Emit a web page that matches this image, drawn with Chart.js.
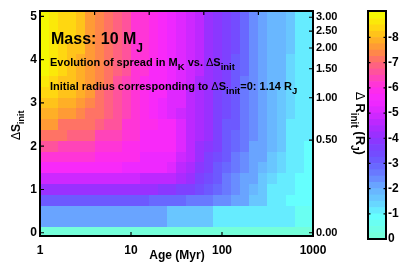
<!DOCTYPE html>
<html>
<head>
<meta charset="utf-8">
<script src="https://cdn.jsdelivr.net/npm/chart.js@4.4.0/dist/chart.umd.min.js"></script>
<style>
  html, body { margin:0; padding:0; background:#fff; }
  #wrap { position:relative; width:407px; height:265px; overflow:hidden; }
  #main { position:absolute; left:0; top:0; }
  #cbar { position:absolute; left:360px; top:0; }
</style>
</head>
<body>
<div id="wrap">
  <canvas id="main" width="407" height="265"></canvas>
  <canvas id="cbar" width="47" height="265"></canvas>
</div>
<script>
/* ============================================================
   Mass 10 MJ — spread in M_K vs. age and ΔS_init (heatmap)
============================================================ */

// age grid (Myr), cell edges, 0.1 dex each
var ageEdges = [1, 1.259, 1.585, 1.995, 2.512, 3.162, 3.981, 5.012, 6.31, 7.943,
                10, 12.59, 15.85, 19.95, 25.12, 31.62, 39.81, 50.12, 63.1, 79.43,
                100, 125.9, 158.5, 199.5, 251.2, 316.2, 398.1, 501.2, 631, 794.3, 1000];

// ΔS_init rows (cell centres)
var deltaS = [0, 0.25, 0.5, 0.75, 1, 1.25, 1.5, 1.75, 2, 2.25, 2.5,
              2.75, 3, 3.25, 3.5, 3.75, 4, 4.25, 4.5, 4.75, 5];

// spread in M_K (mag), one row per ΔS_init, one value per age cell
var spreadRows = [
  /* 0.00 */ [0,0,0,0,0,0,0,0,0,0,0,0,0,0,0,0,0,0,0,0,0,0,0,0,0,0,0,0,0,0],
  /* 0.25 */ [2.0,2.0,2.0,2.0,2.0,2.0,2.0,2.0,2.0,2.0,2.0,2.0,2.0,2.0,1.5,1.5,1.5,1.5,1.5,1.0,1.0,1.0,1.0,1.0,1.0,1.0,1.0,1.0,0.6,0.6],
  /* 0.50 */ [2.0,2.0,2.0,2.0,2.0,2.0,2.0,2.0,2.0,2.0,2.0,2.0,2.0,2.0,1.5,1.5,1.5,1.5,1.5,1.0,1.0,1.0,1.0,1.0,1.0,1.0,1.0,1.0,0.6,0.6],
  /* 0.75 */ [3.0,3.0,3.0,3.0,3.0,3.0,3.0,3.0,3.0,3.0,3.0,3.0,2.8,2.8,2.8,2.8,2.6,2.6,2.6,2.3,2.3,2.0,2.0,1.6,1.6,1.1,1.1,0.8,0.8,0.8],
  /* 1.00 */ [4.0,4.0,4.0,4.0,4.0,4.0,4.0,4.0,4.0,4.0,4.0,4.0,4.0,3.8,3.8,3.6,3.5,3.3,3.1,2.8,2.5,2.3,2.0,1.8,1.5,1.2,1.0,1.0,0.9,0.8],
  /* 1.25 */ [4.9,4.9,4.9,4.9,4.9,4.9,4.9,4.9,4.9,4.9,4.9,4.7,4.7,4.7,4.7,4.4,4.0,3.7,3.4,3.0,2.7,2.4,2.1,2.0,1.7,1.4,1.1,1.0,0.9,0.8],
  /* 1.50 */ [5.6,5.6,5.6,5.6,5.6,5.6,5.6,5.6,5.6,5.3,5.3,5.3,5.3,5.3,5.0,4.7,4.3,3.9,3.6,3.2,2.9,2.6,2.3,2.0,1.9,1.6,1.3,1.0,1.0,0.9],
  /* 1.75 */ [6.0,6.0,6.0,6.0,6.0,6.0,5.8,5.8,5.8,5.8,5.8,5.4,5.4,5.4,5.3,4.9,4.5,4.1,3.7,3.4,3.0,2.7,2.4,2.1,2.0,1.7,1.4,1.1,1.0,0.9],
  /* 2.00 */ [6.6,6.6,6.4,6.4,6.4,6.4,6.1,6.1,6.1,5.8,5.8,5.7,5.6,5.5,5.5,5.0,4.6,4.2,3.9,3.5,3.1,2.8,2.5,2.2,2.0,1.9,1.5,1.1,1.0,0.9],
  /* 2.25 */ [7.0,7.0,7.0,6.8,6.8,6.8,6.4,6.4,6.4,6.1,6.1,5.7,5.7,5.7,5.6,5.0,4.7,4.3,4.0,3.6,3.2,2.9,2.6,2.3,2.0,1.95,1.6,1.2,1.0,1.0],
  /* 2.50 */ [7.6,7.6,7.2,7.2,7.0,7.0,6.8,6.6,6.6,6.1,6.1,5.9,5.9,5.5,5.5,5.0,4.7,4.3,4.0,3.6,3.2,3.0,2.7,2.4,2.1,1.95,1.6,1.2,1.0,1.0],
  /* 2.75 */ [7.9,7.8,7.6,7.5,7.3,7.2,7.0,6.8,6.5,6.3,6.0,5.8,5.6,5.4,5.2,4.9,4.6,4.3,4.0,3.6,3.3,3.0,2.6,2.3,2.0,1.8,1.6,1.3,1.0,1.0],
  /* 3.00 */ [8.2,8.1,7.9,7.8,7.6,7.4,7.1,6.9,6.6,6.3,6.1,5.9,5.7,5.4,5.2,5.0,4.7,4.3,4.0,3.7,3.4,3.0,2.7,2.3,2.0,1.8,1.7,1.3,1.0,1.0],
  /* 3.25 */ [8.4,8.3,8.1,8.0,7.8,7.5,7.2,6.9,6.7,6.4,6.1,5.9,5.7,5.5,5.2,5.0,4.7,4.4,4.0,3.7,3.4,3.1,2.7,2.3,2.0,1.9,1.7,1.3,1.0,1.0],
  /* 3.50 */ [8.7,8.4,8.2,8.1,7.9,7.6,7.3,7.0,6.7,6.4,6.1,5.9,5.7,5.5,5.3,5.0,4.8,4.4,4.1,3.8,3.5,3.1,2.7,2.4,2.0,1.9,1.8,1.4,1.0,1.0],
  /* 3.75 */ [8.8,8.5,8.3,8.2,7.9,7.6,7.3,7.0,6.8,6.5,6.2,6.0,5.7,5.5,5.3,5.1,4.8,4.5,4.1,3.8,3.5,3.2,2.8,2.4,2.1,1.9,1.8,1.4,1.0,1.0],
  /* 4.00 */ [8.8,8.6,8.4,8.2,7.9,7.7,7.4,7.1,6.8,6.5,6.2,6.0,5.8,5.6,5.3,5.1,4.8,4.5,4.2,3.9,3.5,3.2,2.8,2.4,2.1,1.9,1.8,1.4,1.0,1.0],
  /* 4.25 */ [8.9,8.7,8.4,8.2,8.0,7.7,7.4,7.1,6.8,6.5,6.2,6.0,5.8,5.6,5.4,5.1,4.9,4.6,4.2,3.9,3.6,3.3,2.8,2.4,2.1,1.9,1.9,1.5,1.0,1.0],
  /* 4.50 */ [8.9,8.7,8.4,8.3,8.0,7.7,7.4,7.1,6.8,6.5,6.2,6.0,5.8,5.6,5.4,5.2,4.9,4.6,4.2,3.9,3.6,3.3,2.8,2.4,2.1,1.9,1.9,1.5,1.0,1.0],
  /* 4.75 */ [8.9,8.7,8.4,8.3,8.0,7.7,7.4,7.1,6.8,6.5,6.2,6.0,5.8,5.6,5.4,5.2,4.9,4.6,4.2,3.9,3.6,3.3,2.8,2.4,2.1,1.9,1.9,1.5,1.0,1.0],
  /* 5.00 */ [8.9,8.7,8.4,8.3,8.0,7.7,7.4,7.1,6.8,6.5,6.2,6.0,5.8,5.6,5.4,5.2,4.9,4.6,4.2,3.9,3.6,3.3,2.8,2.4,2.1,1.9,1.9,1.5,1.0,1.0]
];

// axes
var xTicks = [1, 10, 100, 1000];
var yTicks = [0, 1, 2, 3, 4, 5];
var rTickLabels = ['0.00', '0.50', '1.00', '1.50', '2.00', '2.50', '3.00'];   // ΔR_init (R_J)
var rTickPos    = [0, 2.14, 3.12, 3.79, 4.27, 4.66, 4.98];                   // same place in ΔS_init
var topFrac     = [0.2, 0.4, 0.6, 0.8];                                        // ticks of the overlaid axes
var cbTicks     = [0, 1, 2, 3, 4, 5, 6, 7, 8];

// colormap (value -> rgb), drawn in steps of 0.25
var cmapVals = [0, 0.9, 1.5, 2.0, 2.5, 3.0, 3.5, 4.0, 4.5, 5.0, 5.5, 6.0, 6.5, 7.0, 7.5, 8.0, 8.5, 9.0];
var cmapRgb  = [[120,255,212],[100,255,255],[105,205,255],[105,175,255],[105,130,255],[105,95,255],
                [120,70,255],[145,50,255],[180,40,255],[215,40,255],[245,40,255],[255,45,230],
                [255,75,170],[255,105,115],[255,145,60],[255,185,30],[255,225,12],[240,255,0]];
var CB_STEP = 0.25, CB_MAX = 9.05;

var FONT = "'Liberation Sans', Arial, Helvetica, sans-serif";

function rgbAt(v) {
  if (v <= cmapVals[0]) return cmapRgb[0];
  for (var i = 1; i < cmapVals.length; i++) {
    if (v <= cmapVals[i]) {
      var t = (v - cmapVals[i-1]) / (cmapVals[i] - cmapVals[i-1]);
      var a = cmapRgb[i-1], b = cmapRgb[i];
      return [a[0] + (b[0]-a[0])*t, a[1] + (b[1]-a[1])*t, a[2] + (b[2]-a[2])*t];
    }
  }
  return cmapRgb[cmapRgb.length-1];
}
function colorFor(v) {
  var band = Math.min(Math.floor(v / CB_STEP), Math.floor(9 / CB_STEP) - 1);
  var c = rgbAt(band * CB_STEP + CB_STEP / 2);
  return 'rgb(' + Math.round(c[0]) + ',' + Math.round(c[1]) + ',' + Math.round(c[2]) + ')';
}

function richText(ctx, parts, x, y) {
  parts.forEach(function(p) {
    ctx.font = p.f;
    ctx.fillText(p.t, x, y + (p.dy || 0));
    x += ctx.measureText(p.t).width;
  });
}

/* ── heatmap cells, through the chart scales ── */
var heatPlugin = {
  id: 'heat',
  beforeDatasetsDraw: function(chart) {
    var ctx = chart.ctx, xs = chart.scales.x, ys = chart.scales.y, a = chart.chartArea;
    var half = (deltaS[1] - deltaS[0]) / 2;
    ctx.save();
    ctx.beginPath(); ctx.rect(a.left, a.top, a.right - a.left, a.bottom - a.top); ctx.clip();
    spreadRows.forEach(function(row, j) {
      var y0 = Math.round(ys.getPixelForValue(deltaS[j] + half));
      var y1 = Math.round(ys.getPixelForValue(deltaS[j] - half));
      row.forEach(function(v, k) {
        var x0 = Math.round(xs.getPixelForValue(ageEdges[k]));
        var x1 = Math.round(xs.getPixelForValue(ageEdges[k+1]));
        ctx.fillStyle = colorFor(v);
        ctx.fillRect(x0, y0, x1 - x0, y1 - y0);
      });
    });
    ctx.restore();
  },
  afterDraw: function(chart) {
    var ctx = chart.ctx, a = chart.chartArea;
    var xs = chart.scales.x, x2 = chart.scales.x2, ys = chart.scales.y, yr = chart.scales.y2;
    ctx.save();
    // inner tick marks
    ctx.strokeStyle = '#000'; ctx.lineWidth = 1.2;
    ctx.beginPath();
    xTicks.forEach(function(v) { var x = xs.getPixelForValue(v); ctx.moveTo(x, a.bottom); ctx.lineTo(x, a.bottom - 4); });
    topFrac.forEach(function(v) { var x = x2.getPixelForValue(v); ctx.moveTo(x, a.top); ctx.lineTo(x, a.top + 4); });
    yTicks.forEach(function(v) { var y = ys.getPixelForValue(v); ctx.moveTo(a.left, y); ctx.lineTo(a.left + 4, y); });
    rTickPos.forEach(function(v) { var y = yr.getPixelForValue(v); ctx.moveTo(a.right, y); ctx.lineTo(a.right - 4, y); });
    ctx.stroke();
    // frame
    ctx.lineWidth = 2;
    ctx.strokeRect(a.left, a.top, a.right - a.left, a.bottom - a.top);

    // text inside the plot
    ctx.fillStyle = '#000'; ctx.textAlign = 'left'; ctx.textBaseline = 'alphabetic';
    var B11 = 'bold 11px ' + FONT, S9 = 'bold 9.5px ' + FONT, D11 = '11px ' + FONT;
    richText(ctx, [{ t:'Mass: 10 M', f:'bold 16px ' + FONT }, { t:'J', f:'bold 12px ' + FONT, dy:8 }], 51, 43.5);
    richText(ctx, [{ t:'Evolution of spread in M', f:B11 }, { t:'K', f:S9, dy:4.5 }, { t:' vs. ', f:B11 },
                   { t:'\u0394', f:D11 }, { t:'S', f:B11 }, { t:'init', f:S9, dy:4.5 }], 50, 65.5);
    richText(ctx, [{ t:'Initial radius corresponding to ', f:B11 }, { t:'\u0394', f:D11 }, { t:'S', f:B11 },
                   { t:'init', f:S9, dy:4.5 }, { t:'=0: 1.14 R', f:B11 }, { t:'J', f:S9, dy:4.5 }], 50, 89.5);

    // axis titles
    ctx.font = 'bold 12px ' + FONT; ctx.textAlign = 'center';
    ctx.fillText('Age (Myr)', 177, 259);
    ctx.textAlign = 'left';
    ctx.save();
    ctx.translate(20, 140); ctx.rotate(-Math.PI / 2);
    richText(ctx, [{ t:'\u0394', f:'12px ' + FONT }, { t:'S', f:'bold 12px ' + FONT }, { t:'init', f:'bold 9px ' + FONT, dy:4 }], 0, 0);
    ctx.restore();
    ctx.save();
    ctx.translate(356, 92); ctx.rotate(Math.PI / 2);
    richText(ctx, [{ t:'\u0394 ', f:'12px ' + FONT }, { t:'R', f:'bold 13px ' + FONT }, { t:'init', f:'bold 10px ' + FONT, dy:5 },
                   { t:' (R', f:'bold 13px ' + FONT }, { t:'J', f:'bold 10px ' + FONT, dy:5 }, { t:')', f:'bold 13px ' + FONT }], 0, 0);
    ctx.restore();
    ctx.restore();
  }
};

var tickFont = { family: FONT, size: 12, weight: 'bold' };

new Chart(document.getElementById('main'), {
  type: 'scatter',
  data: { datasets: [] },
  options: {
    responsive: false, animation: false, devicePixelRatio: 1,
    layout: { padding: { top: 11, left: 0, right: 0, bottom: 0 } },
    plugins: { legend: { display: false }, tooltip: { enabled: false } },
    scales: {
      x: {
        type: 'logarithmic', position: 'bottom', min: 1, max: 1000,
        afterBuildTicks: function(s) { s.ticks = xTicks.map(function(v) { return { value: v }; }); },
        afterFit: function(s) { s.height = 29; },
        grid: { display: false, drawTicks: false }, border: { display: false },
        ticks: { color: '#000', font: tickFont, padding: 7, maxRotation: 0, autoSkip: false,
                 callback: function(v) { return String(v); } }
      },
      x2: { type: 'linear', position: 'top', min: 0, max: 1, display: false },
      y: {
        position: 'left', min: -0.075, max: 5.125,
        afterBuildTicks: function(s) { s.ticks = yTicks.map(function(v) { return { value: v }; }); },
        afterFit: function(s) { s.width = 40; },
        grid: { display: false, drawTicks: false }, border: { display: false },
        ticks: { color: '#000', font: tickFont, padding: 3, autoSkip: false }
      },
      y2: {
        position: 'right', min: -0.075, max: 5.125,
        afterBuildTicks: function(s) { s.ticks = rTickPos.map(function(v) { return { value: v }; }); },
        afterFit: function(s) { s.width = 94; },
        grid: { display: false, drawTicks: false }, border: { display: false },
        ticks: { color: '#000', font: { family: FONT, size: 11, weight: 'bold' }, padding: 3, autoSkip: false,
                 callback: function(v, i) { return rTickLabels[i]; } }
      }
    }
  },
  plugins: [heatPlugin]
});

/* ── colorbar: stacked bands on its own value axis ── */
var cbDatasets = [];
for (var lo = 0; lo < CB_MAX - 1e-9; lo += CB_STEP) {
  var hi = Math.min(lo + CB_STEP, CB_MAX);
  cbDatasets.push({ data: [hi - lo], backgroundColor: colorFor(lo + 1e-6), borderWidth: 0,
                    barPercentage: 1, categoryPercentage: 1 });
}

var cbarPlugin = {
  id: 'cbarFrame',
  afterDraw: function(chart) {
    var ctx = chart.ctx, a = chart.chartArea, ys = chart.scales.y;
    ctx.save();
    ctx.strokeStyle = '#000'; ctx.lineWidth = 1.2;
    ctx.beginPath();
    cbTicks.forEach(function(v) {
      var y = ys.getPixelForValue(v);
      ctx.moveTo(a.left, y); ctx.lineTo(a.left + 2.5, y);
      ctx.moveTo(a.right, y); ctx.lineTo(a.right - 2.5, y);
    });
    ctx.stroke();
    ctx.lineWidth = 2;
    ctx.strokeRect(a.left, a.top, a.right - a.left, a.bottom - a.top);
    ctx.restore();
  }
};

new Chart(document.getElementById('cbar'), {
  type: 'bar',
  data: { labels: [''], datasets: cbDatasets },
  options: {
    responsive: false, animation: false, devicePixelRatio: 1,
    layout: { padding: { top: 11, left: 8, right: 0, bottom: 26 } },
    plugins: { legend: { display: false }, tooltip: { enabled: false } },
    scales: {
      x: { stacked: true, display: false },
      y: {
        stacked: true, position: 'right', min: 0, max: CB_MAX,
        afterBuildTicks: function(s) { s.ticks = cbTicks.map(function(v) { return { value: v }; }); },
        afterFit: function(s) { s.width = 21; },
        grid: { display: false, drawTicks: false }, border: { display: false },
        ticks: { color: '#000', font: tickFont, padding: 2, autoSkip: false,
                 callback: function(v) { return v === 0 ? '0' : '-' + v; } }
      }
    }
  },
  plugins: [cbarPlugin]
});
</script>
</body>
</html>
